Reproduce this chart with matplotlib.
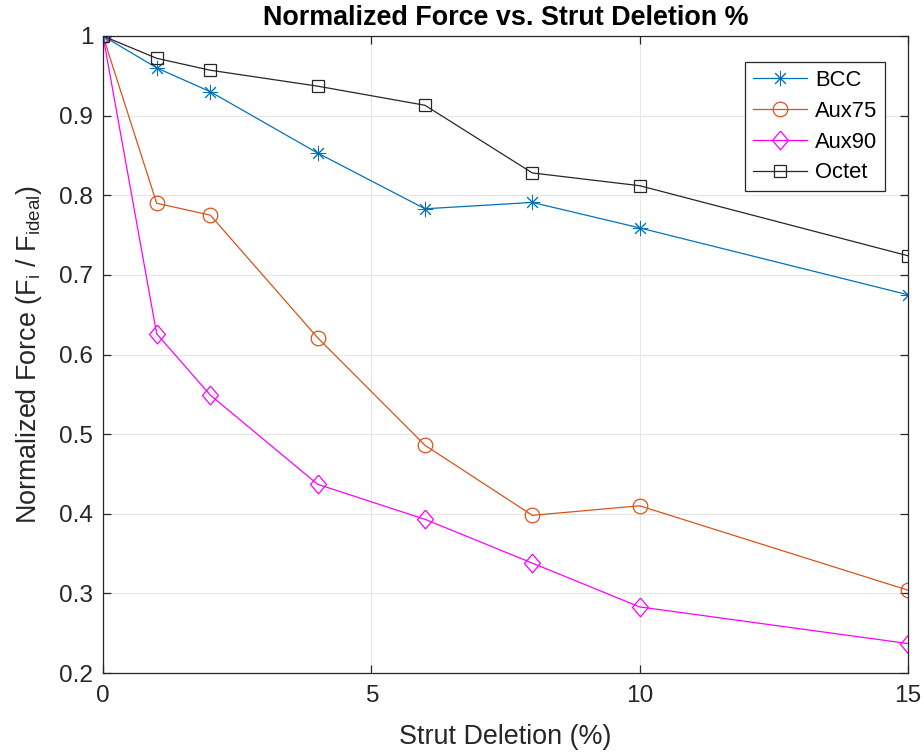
import matplotlib
matplotlib.use("Agg")
import matplotlib.pyplot as plt
from matplotlib.ticker import FuncFormatter

plt.rcParams['font.family'] = ['Liberation Sans', 'DejaVu Sans']
plt.rcParams['mathtext.fontset'] = 'custom'
plt.rcParams['mathtext.rm'] = 'Liberation Sans'
plt.rcParams['mathtext.it'] = 'Liberation Sans'

deletion = [0, 1, 2, 4, 6, 8, 10, 15]
bcc = [1.0, 0.960, 0.930, 0.853, 0.783, 0.791, 0.759, 0.675]
aux75 = [1.0, 0.790, 0.775, 0.621, 0.486, 0.398, 0.410, 0.304]
aux90 = [1.0, 0.626, 0.549, 0.437, 0.393, 0.338, 0.283, 0.237]
octet = [1.0, 0.972, 0.957, 0.937, 0.913, 0.828, 0.812, 0.724]

tick_fs = 17.6
label_fs = 19.4
legend_fs = 15.8
ink = '#262626'

fig = plt.figure(figsize=(9.23, 7.54), dpi=100)
ax = fig.add_axes([103 / 923, 1 - 673 / 754, (908 - 103) / 923, (673 - 36) / 754])

# eight-armed asterisk and an upright diamond, drawn as marker outlines
asterisk = (8, 2, 0)
diamond = [(0, 1), (0.85, 0), (0, -1), (-0.85, 0), (0, 1)]

lw = 0.9
ax.plot(deletion, bcc, color='#0072BD', marker=asterisk, markersize=11, lw=lw,
        markeredgewidth=0.7, label='BCC')
ax.plot(deletion, aux75, color='#D95319', marker='o', markersize=10.5, lw=lw,
        markerfacecolor='none', markeredgewidth=0.9, label='Aux75')
ax.plot(deletion, aux90, color='#FF00FF', marker=diamond, markersize=13.5, lw=lw,
        markerfacecolor='none', markeredgewidth=0.9, label='Aux90')
ax.plot(deletion, octet, color=ink, marker='s', markersize=8.5, lw=lw,
        markerfacecolor='none', markeredgewidth=0.9, label='Octet')

ax.set_xlim(0, 15)
ax.set_ylim(0.2, 1.0)
ax.set_xticks([0, 5, 10, 15])
ax.set_yticks([0.2, 0.3, 0.4, 0.5, 0.6, 0.7, 0.8, 0.9, 1.0])
ax.yaxis.set_major_formatter(FuncFormatter(lambda v, p: f"{v:g}"))
ax.grid(True, color='#e6e6e6', lw=0.8)
ax.set_axisbelow(True)
ax.tick_params(direction='in', length=6, width=0.9, top=True, right=True,
               labelsize=tick_fs, colors=ink)
ax.tick_params(axis='x', pad=9)
ax.tick_params(axis='y', pad=7)
for s in ax.spines.values():
    s.set_color(ink)
    s.set_linewidth(0.9)

ax.set_xlabel('Strut Deletion (%)', fontsize=label_fs, color=ink, labelpad=12)
ax.set_ylabel(r'Normalized Force (F$_\mathregular{i}$ / F$_\mathregular{ideal}$)',
              fontsize=label_fs, color=ink, labelpad=11)
ax.set_title('Normalized Force vs. Strut Deletion %', fontsize=label_fs,
             fontweight='bold', color='black', pad=8)

leg = ax.legend(loc='upper right', bbox_to_anchor=(0.9715, 0.959),
                fontsize=legend_fs, frameon=True, fancybox=False,
                handlelength=2.5, borderpad=0.35, labelspacing=0.45,
                handletextpad=0.35, borderaxespad=0.0, framealpha=1)
leg.get_frame().set_edgecolor(ink)
leg.get_frame().set_linewidth(0.9)

fig.savefig('out.png', dpi=100)
